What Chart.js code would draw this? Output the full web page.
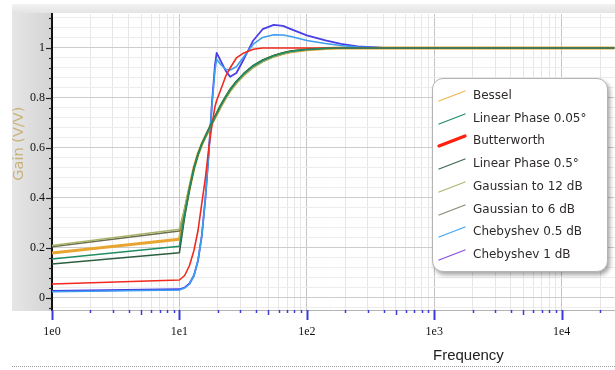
<!DOCTYPE html>
<html>
<head>
<meta charset="utf-8">
<script src="https://cdn.jsdelivr.net/npm/chart.js@4.4.1/dist/chart.umd.min.js"></script>
<style>
  html, body { margin:0; padding:0; background:#fff; width:615px; height:370px; overflow:hidden; }
  #wrap { position:relative; width:615px; height:370px; }
  #band { position:absolute; left:12px; top:10px; width:40px; height:301px; background:linear-gradient(to right,#e6e6e6,#d4d4d4); }
  #topstrip { position:absolute; left:12px; top:4px; width:603px; height:9px; background:linear-gradient(to bottom,#f2f2f2,#e4e4e4); }
  canvas { position:absolute; left:0; top:0; }
  #legend { position:absolute; left:432px; top:78px; width:174px; height:192px; background:#fff; border:1px solid #b4b4b4; border-radius:11px; box-shadow:2px 3px 4px rgba(0,0,0,0.35); font-family:"DejaVu Sans", sans-serif; font-size:12px; color:#2e2a2a; }
  .row { position:absolute; left:0; height:20px; width:174px; }
  .row svg { position:absolute; left:4px; top:3px; }
  .row span { position:absolute; left:40px; top:2px; white-space:nowrap; }
  #xtitle { position:absolute; left:433px; top:346px; font-family:"Liberation Sans", sans-serif; font-size:15px; color:#222; }
  #dots { position:absolute; left:12px; top:366px; width:603px; border-top:1px dotted #999; }
</style>
</head>
<body>
<div id="wrap">
  <div id="band"></div>
  <div id="topstrip"></div>
  <canvas id="c" width="615" height="370"></canvas>
  <div id="legend"></div>
  <div id="xtitle">Frequency</div>
  <div id="dots"></div>
</div>
<script>
// ---- data ----
const freq = [1, 10, 11, 12, 13, 14, 15, 16, 17, 18, 19, 19.6, 21, 23, 25, 28, 32, 38, 45, 55, 65, 75, 100, 140, 185, 250, 400, 1000, 10000, 26000];

const bessel      = [0.180, 0.235, 0.345, 0.440, 0.520, 0.575, 0.615, 0.645, 0.672, 0.698, 0.722, 0.735, 0.765, 0.800, 0.830, 0.862, 0.893, 0.925, 0.948, 0.967, 0.978, 0.985, 0.993, 0.998, 1.0, 1.0, 1.0, 1.0, 1.0, 1.0];
const linear005   = [0.156, 0.207, 0.335, 0.437, 0.519, 0.575, 0.616, 0.646, 0.674, 0.700, 0.724, 0.737, 0.768, 0.803, 0.833, 0.865, 0.896, 0.928, 0.950, 0.969, 0.980, 0.987, 0.994, 0.999, 1.0, 1.0, 1.0, 1.0, 1.0, 1.0];
const butterworth = [0.056, 0.072, 0.090, 0.130, 0.190, 0.270, 0.380, 0.480, 0.600, 0.690, 0.765, 0.790, 0.830, 0.885, 0.920, 0.960, 0.980, 0.995, 1.0, 1.0, 1.0, 1.0, 1.0, 1.0, 1.0, 1.0, 1.0, 1.0, 1.0, 1.0];
const linear05    = [0.136, 0.181, 0.325, 0.434, 0.518, 0.576, 0.617, 0.648, 0.676, 0.702, 0.726, 0.739, 0.770, 0.805, 0.835, 0.867, 0.898, 0.930, 0.952, 0.970, 0.981, 0.988, 0.995, 0.999, 1.0, 1.0, 1.0, 1.0, 1.0, 1.0];
const gaussian12  = [0.210, 0.275, 0.360, 0.445, 0.521, 0.574, 0.613, 0.643, 0.670, 0.696, 0.720, 0.733, 0.762, 0.797, 0.827, 0.859, 0.890, 0.922, 0.945, 0.965, 0.976, 0.984, 0.992, 0.998, 1.0, 1.0, 1.0, 1.0, 1.0, 1.0];
const gaussian6   = [0.205, 0.268, 0.355, 0.443, 0.520, 0.574, 0.614, 0.644, 0.671, 0.697, 0.721, 0.734, 0.764, 0.799, 0.829, 0.861, 0.892, 0.924, 0.947, 0.966, 0.977, 0.985, 0.993, 0.998, 1.0, 1.0, 1.0, 1.0, 1.0, 1.0];
const chebyshev05 = [0.025, 0.032, 0.040, 0.056, 0.088, 0.150, 0.250, 0.400, 0.580, 0.770, 0.910, 0.955, 0.935, 0.915, 0.912, 0.925, 0.965, 1.015, 1.042, 1.053, 1.052, 1.046, 1.030, 1.018, 1.010, 1.004, 1.0, 1.0, 1.0, 1.0];
const chebyshev1  = [0.028, 0.035, 0.042, 0.058, 0.090, 0.150, 0.250, 0.400, 0.580, 0.780, 0.930, 0.980, 0.950, 0.910, 0.885, 0.900, 0.955, 1.030, 1.075, 1.092, 1.088, 1.075, 1.050, 1.030, 1.016, 1.006, 1.0, 1.0, 1.0, 1.0];

const seriesNames = ["Bessel", "Linear Phase 0.05°", "Butterworth", "Linear Phase 0.5°", "Gaussian to 12 dB", "Gaussian to 6 dB", "Chebyshev 0.5 dB", "Chebyshev 1 dB"];
const seriesValues = [bessel, linear005, butterworth, linear05, gaussian12, gaussian6, chebyshev05, chebyshev1];

const xDecades = [1, 10, 100, 1000, 10000];
const xTickLabels = ["1e0", "1e1", "1e2", "1e3", "1e4"];
const yMajor = [0, 0.2, 0.4, 0.6, 0.8, 1];
const yTickLabels = ["0", "0.2", "0.4", "0.6", "0.8", "1"];

// ---- styles ----
const lineColors   = ["#e8a630", "#1f8c62", "#f02a1e", "#2c5e40", "#a9b46a", "#6e6e50", "#3c9ef0", "#4a3ee6"];
const legendColors = ["#f0b650", "#1f9068", "#ff2010", "#3b6a50", "#a8b874", "#8a8a74", "#44a4f0", "#8a4ee0"];
const lineWidths   = [3, 1.6, 1.6, 1.6, 1.6, 1.6, 1.6, 1.8];
const legendWidths = [1.3, 1.3, 3.2, 1.3, 1.3, 1.3, 1.3, 1.3];

const X_MIN = 1, X_MAX = 26000, Y_MIN = -0.048, Y_MAX = 1.135;

// tick lists built from the named decade / major lists
const xTicks = [];
xDecades.forEach(d => { for (let m = 1; m <= 9; m++) { const v = d * m; if (v <= X_MAX) xTicks.push(v); } });
const yTicks = [];
for (let i = -1; i <= 28; i++) yTicks.push(Math.round(i * 4) / 100);

const isDecade = v => xDecades.some(d => Math.abs(d - v) < 1e-9);
const isYMajor = v => yMajor.some(m => Math.abs(m - v) < 1e-9);

const datasets = seriesNames.map((name, i) => ({
  label: name,
  data: freq.map((f, j) => ({ x: f, y: seriesValues[i][j] })),
  borderColor: lineColors[i],
  borderWidth: lineWidths[i],
  pointRadius: 0,
  fill: false,
  tension: 0,
  borderJoinStyle: 'round',
  order: i === 0 ? 10 : i
}));

const tickPlugin = {
  id: 'customTicks',
  afterDraw(chart) {
    const ctx = chart.ctx;
    const xs = chart.scales.x, ys = chart.scales.y;
    ctx.save();
    xTicks.forEach(v => {
      const px = Math.round(xs.getPixelForValue(v)) + 0.5;
      const dec = isDecade(v);
      const len = dec ? 10 : (String(v)[0] === '5' ? 5 : 3);
      ctx.strokeStyle = '#3a3ae0';
      ctx.lineWidth = dec ? 2 : 1.5;
      ctx.beginPath(); ctx.moveTo(px, xs.top); ctx.lineTo(px, xs.top + len); ctx.stroke();
    });
    yTicks.forEach(v => {
      if (v < Y_MIN || v > Y_MAX) return;
      const py = Math.round(ys.getPixelForValue(v)) + 0.5;
      const len = isYMajor(v) ? 6 : 3;
      ctx.strokeStyle = '#222';
      ctx.lineWidth = 1.2;
      ctx.beginPath(); ctx.moveTo(ys.right - len, py); ctx.lineTo(ys.right, py); ctx.stroke();
    });
    ctx.restore();
  }
};

new Chart(document.getElementById('c'), {
  type: 'line',
  data: { datasets },
  options: {
    responsive: false,
    animation: false,
    layout: { padding: { top: 13, right: 0, left: 0, bottom: 0 } },
    plugins: { legend: { display: false }, tooltip: { enabled: false } },
    scales: {
      x: {
        type: 'logarithmic',
        min: X_MIN, max: X_MAX,
        afterBuildTicks: s => { s.ticks = xTicks.map(v => ({ value: v })); },
        afterFit: s => { s.height = 60; },
        border: { color: '#b4b4b4', width: 1 },
        grid: {
          drawTicks: false,
          color: c => (c.tick && isDecade(c.tick.value)) ? '#c4c4c4' : '#e6e6e6',
          lineWidth: 1
        },
        ticks: {
          autoSkip: false, maxRotation: 0, padding: 15,
          font: { family: '"Liberation Serif", serif', size: 12 },
          color: '#111',
          callback: v => { const k = xDecades.findIndex(d => Math.abs(d - v) < 1e-9); return k >= 0 ? xTickLabels[k] : ''; }
        }
      },
      y: {
        type: 'linear',
        min: Y_MIN, max: Y_MAX,
        afterBuildTicks: s => { s.ticks = yTicks.filter(v => v >= Y_MIN && v <= Y_MAX).map(v => ({ value: v })); },
        afterFit: s => { s.width = 52; },
        border: { color: '#111', width: 2 },
        grid: {
          drawTicks: false,
          color: c => (c.tick && isYMajor(c.tick.value)) ? '#cdcdcd' : '#ececec',
          lineWidth: 1
        },
        title: {
          display: true,
          text: '        Gain (V/V)',
          color: '#c9b37c',
          font: { family: '"DejaVu Sans", sans-serif', size: 14.5 },
          padding: { top: 11, bottom: 0 }
        },
        ticks: {
          autoSkip: false, padding: 7,
          font: { family: '"Liberation Serif", serif', size: 12 },
          color: '#111',
          callback: v => { const k = yMajor.findIndex(m => Math.abs(m - v) < 1e-9); return k >= 0 ? yTickLabels[k] : ''; }
        }
      }
    }
  },
  plugins: [tickPlugin]
});

// HTML legend
const leg = document.getElementById('legend');
seriesNames.forEach((name, i) => {
  const row = document.createElement('div');
  row.className = 'row';
  row.style.top = (7 + i * 22.7) + 'px';
  row.innerHTML = '<svg width="30" height="14"><line x1="2" y1="12" x2="28" y2="2" stroke="' + legendColors[i] + '" stroke-width="' + legendWidths[i] + '" stroke-linecap="round"/></svg><span>' + name + '</span>';
  leg.appendChild(row);
});
</script>
</body>
</html>
